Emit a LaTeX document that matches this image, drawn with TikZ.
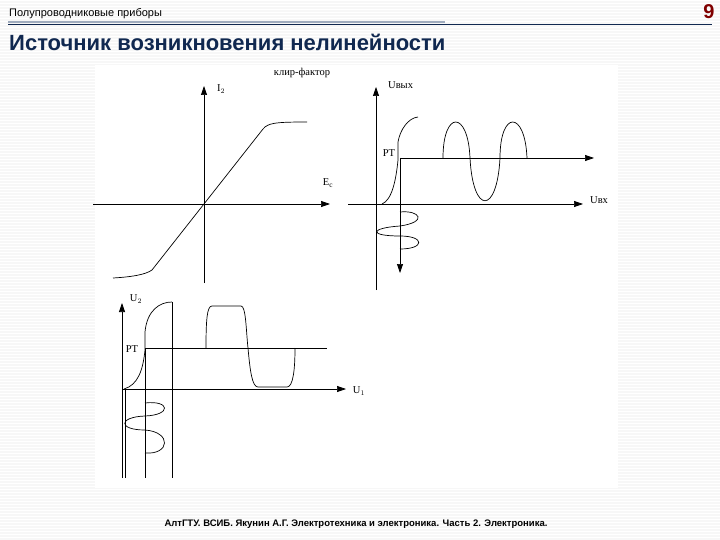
\documentclass[tikz,border=0pt]{standalone}
\usepackage{fontspec}
\setmainfont{Liberation Serif}
\newfontfamily\hdr{Liberation Sans}
\usetikzlibrary{arrows.meta}
\definecolor{titleblue}{RGB}{16,40,80}
\definecolor{bar}{RGB}{160,172,190}
\begin{document}
\begin{tikzpicture}[x=1pt,y=-1pt,
  ax/.style={line width=0.7pt,-{Triangle[length=9pt,width=6pt]}},
  cv/.style={line width=0.7pt},
  lbl/.style={font=\fontsize{10.5}{12}\selectfont,inner sep=0pt}]
\useasboundingbox (0,0) rectangle (720,540);
\fill[gray!6] (0,0) rectangle (720,540);
\foreach \i in {0,3,...,540} \draw[white,line width=0.8pt] (0,\i) -- (720,\i);
\fill[white] (95,65) rectangle (618,488);
% header
\node[font=\hdr\fontsize{11}{12}\selectfont,anchor=west,inner sep=0pt] (hd) at (9,14) {Полупроводниковые приборы};
\draw[titleblue,line width=0.6pt] (8,24) -- (712,24);
\fill[bar] (8,21) rectangle (445,23.5);
\node[font=\hdr\bfseries\fontsize{20}{22}\selectfont,text=red!50!black,inner sep=0pt] (num) at (709,12) {9};
\node[font=\hdr\bfseries\fontsize{22}{24}\selectfont,text=titleblue,anchor=west,inner sep=0pt] (title) at (9,42) {Источник возникновения нелинейности};
\node[font=\hdr\bfseries\fontsize{9.5}{11}\selectfont,inner sep=0pt] (foot) at (356,524) {АлтГТУ. ВСИБ. Якунин А.Г. Электротехника и электроника. Часть 2. Электроника.};
% plot 1
\coordinate (a1b) at (204,283); \coordinate (a1t) at (204,86);
\coordinate (h1l) at (93,204); \coordinate (h1r) at (330,204);
\draw[ax] (a1b) -- (a1t);
\draw[ax] (h1l) -- (h1r);
\node[lbl] (i2) at (221,89) {I$_2$};
\node[lbl] (ec) at (328,183) {E$_\mathrm{c}$};
\node[lbl] (kf) at (302,73) {клир-фактор};
\draw[cv] (113,278) .. controls (130,277) and (145,275) .. (152,270) -- (263,129) .. controls (268,123) and (275,122) .. (307,122);
% plot 2
\coordinate (a2b) at (376,290); \coordinate (a2t) at (376,87);
\coordinate (h2l) at (348,204); \coordinate (h2r) at (583,204);
\draw[ax] (a2b) -- (a2t);
\draw[ax] (h2l) -- (h2r);
\node[lbl,anchor=west] (uvyx) at (388,85) {Uвых};
\node[lbl,anchor=west] (uvx) at (590,200) {Uвх};
\node[lbl] (pt1) at (389,153) {PT};
\coordinate (p1) at (400,158);
\draw[ax] (p1) -- (594,158);
\draw[ax] (p1) -- (400,273);
\draw[cv] (382,204) .. controls (392,200) and (396,180) .. (398,160) -- (398,142) .. controls (400,130) and (408,118) .. (418,117);
\draw[cv] (443,158) .. controls (443,110) and (468,110) .. (470,158) .. controls (473,215) and (497,215) .. (500,158) .. controls (500,110) and (525,110) .. (527,158);
\draw[cv] (400,212) .. controls (420,210) and (428,222) .. (400,226) .. controls (370,228) and (368,236) .. (400,236) .. controls (425,236) and (425,249) .. (400,249);
% plot 3
\coordinate (a3b) at (122,478); \coordinate (a3t) at (122,303);
\coordinate (h3r) at (346,389);
\draw[ax] (a3b) -- (a3t);
\draw[ax] (122,389) -- (h3r);
\node[lbl] (u2) at (136,299) {U$_2$};
\node[lbl] (u1) at (359,391) {U$_1$};
\node[lbl] (pt2) at (132,349) {PT};
\draw[cv] (125,389) -- (125,478);
\draw[cv] (145,348) -- (145,478);
\draw[cv] (172,302) -- (172,478);
\draw[cv] (145,348) -- (327,348);
\draw[cv] (124,389) .. controls (138,385) and (143,370) .. (145,350) -- (145,332) .. controls (147,310) and (160,302) .. (172,302);
\draw[cv] (206,348) .. controls (206,320) and (207,306) .. (212,306) -- (241,306) .. controls (246,306) and (246,330) .. (248,348) .. controls (250,370) and (252,387) .. (258,387) -- (287,387) .. controls (293,387) and (295,370) .. (295,348);
\draw[cv] (145,403) .. controls (170,400) and (172,415) .. (145,416) .. controls (118,417) and (118,430) .. (145,430) .. controls (172,432) and (170,455) .. (145,453);
\end{tikzpicture}
\end{document}
